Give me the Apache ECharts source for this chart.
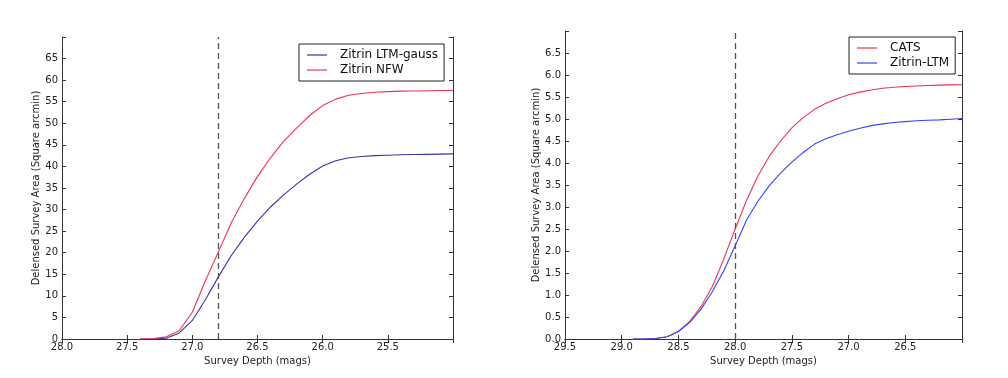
<!DOCTYPE html>
<html>
<head>
<meta charset="utf-8">
<script src="https://cdn.jsdelivr.net/npm/echarts@6/dist/echarts.min.js"></script>
<style>
  html, body { margin: 0; padding: 0; background: #fff; }
</style>
</head>
<body>
<div id="chart" style="width: 1008px;height:378px;"></div>
<script>
// left panel: Zitrin models
var depthL = [27.4, 27.3, 27.2, 27.1, 27.0, 26.9, 26.8, 26.7, 26.6, 26.5, 26.4, 26.3, 26.2,
  26.1, 26.0, 25.9, 25.8, 25.7, 25.6, 25.5, 25.4, 25.3, 25.2, 25.1, 25.0];
var ltmGauss = [0, 0, 0.2, 1.4, 4.3, 9.1, 14.4, 19.4, 23.6, 27.3, 30.6, 33.4, 35.9,
  38.2, 40.1, 41.3, 42.0, 42.3, 42.5, 42.6, 42.7, 42.75, 42.8, 42.85, 42.9];
var nfw = [0, 0.1, 0.5, 1.9, 6.2, 13.5, 20.2, 27.0, 32.6, 37.7, 42.0, 45.8, 48.9,
  51.8, 54.1, 55.6, 56.5, 56.9, 57.2, 57.35, 57.45, 57.5, 57.55, 57.6, 57.6];

// right panel: CATS vs Zitrin-LTM
var depthR = [28.9, 28.8, 28.7, 28.6, 28.5, 28.4, 28.3, 28.2, 28.1, 28.0, 27.9, 27.8, 27.7,
  27.6, 27.5, 27.4, 27.3, 27.2, 27.1, 27.0, 26.9, 26.8, 26.7, 26.6, 26.5, 26.4, 26.3,
  26.2, 26.1, 26.0];
var cats = [0, 0, 0.01, 0.05, 0.17, 0.40, 0.74, 1.20, 1.82, 2.50, 3.15, 3.70, 4.15,
  4.50, 4.80, 5.03, 5.22, 5.36, 5.46, 5.55, 5.61, 5.66, 5.70, 5.72, 5.74, 5.75, 5.76,
  5.77, 5.775, 5.78];
var zitrinLtm = [0, 0, 0.01, 0.05, 0.17, 0.38, 0.68, 1.08, 1.55, 2.12, 2.70, 3.13, 3.48,
  3.77, 4.02, 4.24, 4.43, 4.55, 4.64, 4.72, 4.79, 4.85, 4.89, 4.92, 4.94, 4.96, 4.97,
  4.98, 4.995, 5.01];

var cutL = 26.8;
var cutR = 28.0;

var RED = '#ee3355';
var BLUE_DARK = '#3535aa';
var BLUE = '#3344ff';
var FONT = 'DejaVu Sans';

function pairs(xs, ys) {
  return xs.map(function (x, i) { return [x, ys[i]]; });
}

function xAx(grid, min, max, top) {
  return {
    type: 'value', gridIndex: grid, inverse: true, min: min, max: max, interval: 0.5,
    position: top ? 'top' : 'bottom',
    name: top ? '' : 'Survey Depth (mags)', nameLocation: 'middle', nameGap: 16,
    nameTextStyle: { fontFamily: FONT, fontSize: 10, color: '#222' },
    axisLine: { show: true, lineStyle: { color: '#333', width: 1 } },
    axisTick: { show: true, inside: true, length: 4, lineStyle: { color: '#333' } },
    axisLabel: {
      show: !top, margin: 3, fontFamily: FONT, fontSize: 10, color: '#222',
      showMinLabel: true, showMaxLabel: true,
      formatter: function (v) { return v === min ? '' : v.toFixed(1); }
    },
    splitLine: { show: false }
  };
}

function yAx(grid, max, interval, dec, right) {
  return {
    type: 'value', gridIndex: grid, min: 0, max: max, interval: interval,
    position: right ? 'right' : 'left',
    name: right ? '' : 'Delensed Survey Area (Square arcmin)', nameLocation: 'middle',
    nameGap: dec ? 24 : 20,
    nameTextStyle: { fontFamily: FONT, fontSize: 10, color: '#222' },
    axisLine: { show: true, lineStyle: { color: '#333', width: 1 } },
    axisTick: { show: true, inside: true, length: 4, lineStyle: { color: '#333' } },
    axisLabel: {
      show: !right, margin: 4, fontFamily: FONT, fontSize: 10, color: '#222',
      showMinLabel: true, showMaxLabel: true,
      formatter: function (v) { return v === max ? '' : v.toFixed(dec); }
    },
    splitLine: { show: false }
  };
}

function line(name, data, color, xi, yi, cut) {
  var s = {
    name: name, type: 'line', data: data, xAxisIndex: xi, yAxisIndex: yi,
    symbol: 'none', showSymbol: false, smooth: false,
    lineStyle: { color: color, width: 1.1 }, itemStyle: { color: color },
    z: 3
  };
  if (cut != null) {
    s.markLine = {
      silent: true, symbol: 'none', label: { show: false },
      lineStyle: { color: '#555', type: [6, 4], width: 1.3 },
      data: [{ xAxis: cut }]
    };
  }
  return s;
}

function legend(names, left, top) {
  return {
    data: names, left: left, top: top, orient: 'vertical',
    icon: 'rect', itemWidth: 20, itemHeight: 1.2, itemGap: 1,
    padding: [4, 6, 4, 8],
    borderColor: '#222', borderWidth: 1, backgroundColor: '#fff',
    textStyle: { fontFamily: FONT, fontSize: 12, lineHeight: 14, color: '#111', padding: [0, 0, 0, 8] }
  };
}

var myChart = echarts.init(document.getElementById('chart'));
var option = {
  animation: false,
  backgroundColor: '#fff',
  grid: [
    { left: 62, top: 37, width: 391, height: 302 },
    { left: 565, top: 31, width: 397, height: 308 }
  ],
  legend: [
    legend(['Zitrin LTM-gauss', 'Zitrin NFW'], 299, 44),
    legend(['CATS', 'Zitrin-LTM'], 849, 37)
  ],
  xAxis: [xAx(0, 25, 28, false), xAx(0, 25, 28, true), xAx(1, 26, 29.5, false), xAx(1, 26, 29.5, true)],
  yAxis: [yAx(0, 70, 5, 0, false), yAx(0, 70, 5, 0, true), yAx(1, 7, 0.5, 1, false), yAx(1, 7, 0.5, 1, true)],
  series: [
    line('Zitrin LTM-gauss', pairs(depthL, ltmGauss), BLUE_DARK, 0, 0, cutL),
    line('Zitrin NFW', pairs(depthL, nfw), RED, 0, 0, null),
    line('CATS', pairs(depthR, cats), RED, 2, 2, cutR),
    line('Zitrin-LTM', pairs(depthR, zitrinLtm), BLUE, 2, 2, null)
  ]
};
myChart.setOption(option, true);
</script>
</body>
</html>
